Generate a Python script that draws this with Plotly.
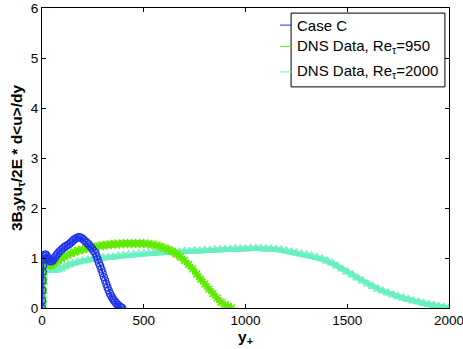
import plotly.graph_objects as go

# Case C
case_y = [0, 1, 2, 3, 4, 5, 7, 10, 14, 18, 22, 27, 32, 38, 44, 50, 56, 63, 70, 78,
          86, 94, 102, 110, 118, 126, 134, 142, 150, 158, 166, 174, 182, 190, 198,
          206, 214, 222, 230, 238, 246, 254, 262, 268, 274, 280, 286, 292, 298, 304,
          310, 316, 322, 328, 334, 340, 346, 352, 358, 364, 370, 376, 382, 388, 394]
case_v = [0.0, 0.15, 0.35, 0.55, 0.72, 0.85, 0.97, 1.04, 1.07, 1.07, 1.05, 1.01, 0.97,
          0.94, 0.93, 0.94, 0.97, 1.01, 1.05, 1.09, 1.13, 1.16, 1.19, 1.22, 1.24, 1.26,
          1.28, 1.31, 1.34, 1.37, 1.39, 1.41, 1.42, 1.41, 1.39, 1.36, 1.33, 1.30, 1.27,
          1.23, 1.19, 1.14, 1.10, 1.04, 0.97, 0.90, 0.84, 0.77, 0.70, 0.62, 0.55, 0.48,
          0.41, 0.35, 0.29, 0.24, 0.20, 0.16, 0.13, 0.10, 0.07, 0.05, 0.03, 0.015, 0.0]

# DNS Re_tau = 950
dns950_y = [0, 1, 2, 3, 4, 5, 7, 10, 13, 17, 22, 28, 35, 42, 50, 60, 70, 80, 95, 110,
            125, 140, 160, 180, 200, 220, 240, 260, 280, 300, 320, 340, 360, 380, 400,
            420, 440, 460, 480, 500, 520, 540, 560, 580, 600, 620, 640, 660, 680, 700,
            720, 740, 760, 780, 800, 820, 840, 860, 880, 900, 915, 930]
dns950_v = [0.0, 0.12, 0.3, 0.48, 0.62, 0.73, 0.86, 0.94, 0.96, 0.95, 0.92, 0.89, 0.87,
            0.86, 0.87, 0.89, 0.92, 0.95, 0.99, 1.03, 1.06, 1.09, 1.12, 1.15, 1.17, 1.19,
            1.21, 1.22, 1.24, 1.25, 1.26, 1.27, 1.28, 1.28, 1.29, 1.29, 1.29, 1.29, 1.29,
            1.29, 1.28, 1.27, 1.25, 1.23, 1.20, 1.17, 1.13, 1.08, 1.02, 0.95, 0.87, 0.78,
            0.68, 0.58, 0.48, 0.38, 0.29, 0.20, 0.12, 0.06, 0.03, 0.0]

# DNS Re_tau = 2000
dns2000_y = [0, 1, 2, 3, 4, 5, 7, 10, 14, 19, 25, 32, 40, 50, 60, 75, 90, 110, 130, 150,
             175, 200, 225, 250, 275, 300, 325, 350, 375, 400, 425, 450, 475, 500, 525,
             550, 575, 600, 625, 650, 675, 700, 725, 750, 775, 800, 825, 850, 875, 900,
             925, 950, 975, 1000, 1025, 1050, 1075, 1100, 1125, 1150, 1175, 1200, 1225,
             1250, 1275, 1300, 1325, 1350, 1375, 1400, 1425, 1450, 1475, 1500, 1525, 1550,
             1575, 1600, 1625, 1650, 1675, 1700, 1725, 1750, 1775, 1800, 1825, 1850, 1875,
             1900, 1925, 1950, 1975, 2000]
dns2000_v = [0.0, 0.1, 0.25, 0.4, 0.52, 0.6, 0.7, 0.77, 0.80, 0.80, 0.79, 0.77, 0.76, 0.75,
             0.75, 0.76, 0.78, 0.82, 0.86, 0.89, 0.92, 0.94, 0.96, 0.98, 0.99, 1.00, 1.01,
             1.02, 1.04, 1.05, 1.06, 1.07, 1.08, 1.09, 1.09, 1.10, 1.10, 1.11, 1.11, 1.12,
             1.12, 1.13, 1.13, 1.14, 1.14, 1.15, 1.15, 1.16, 1.16, 1.17, 1.17, 1.18, 1.18,
             1.18, 1.19, 1.19, 1.19, 1.18, 1.18, 1.17, 1.16, 1.14, 1.12, 1.10, 1.08, 1.06,
             1.04, 1.01, 0.98, 0.94, 0.90, 0.84, 0.78, 0.72, 0.66, 0.60, 0.54, 0.48, 0.43,
             0.38, 0.34, 0.30, 0.26, 0.23, 0.20, 0.17, 0.14, 0.12, 0.09, 0.07, 0.05, 0.03,
             0.01, 0.0]

legend_names = ["Case C", "DNS Data, Re<sub>τ</sub>=950", "DNS Data, Re<sub>τ</sub>=2000"]

blue = "rgb(30,50,235)"
green = "rgb(95,235,0)"
aqua = "rgb(105,240,190)"

fig = go.Figure()
# thick line under the markers gives the dense marker band of the original
fig.add_trace(go.Scatter(x=dns2000_y, y=dns2000_v, mode="lines+markers", showlegend=False,
                         line=dict(color=aqua, width=5),
                         marker=dict(symbol="triangle-up-open", size=8, color=aqua,
                                     line=dict(width=1.2, color=aqua))))
fig.add_trace(go.Scatter(x=dns950_y, y=dns950_v, mode="lines+markers", showlegend=False,
                         line=dict(color=green, width=4),
                         marker=dict(symbol="asterisk-open", size=8, color=green,
                                     line=dict(width=1.5, color=green))))
fig.add_trace(go.Scatter(x=case_y, y=case_v, mode="lines+markers", showlegend=False,
                         line=dict(color=blue, width=2),
                         marker=dict(symbol="circle-open", size=7, color=blue,
                                     line=dict(width=1.2, color=blue))))

# hand-made legend box (matlab style: line samples poke out on the left)
fig.add_shape(type="rect", xref="paper", yref="paper", x0=0.612, x1=0.990, y0=0.737, y1=0.983,
              line=dict(color="black", width=1), fillcolor="white", layer="above")
for name, col, yy in zip(legend_names, [blue, green, aqua], [0.943, 0.872, 0.787]):
    fig.add_shape(type="line", xref="paper", yref="paper", x0=0.585, x1=0.614, y0=yy, y1=yy,
                  line=dict(color=col, width=1), layer="above")
    fig.add_annotation(text=name, xref="paper", yref="paper", x=0.622, y=yy,
                       xanchor="left", yanchor="middle", showarrow=False,
                       font=dict(size=15, color="black"))

axis_common = dict(showline=True, linecolor="black", linewidth=1, mirror="ticks",
                   ticks="inside", ticklen=4, tickcolor="black", showgrid=False,
                   zeroline=False, automargin=False, ticklabeloverflow="allow",
                   tickfont=dict(size=13.5, color="black"))

fig.update_xaxes(range=[0, 2000], tickvals=[0, 500, 1000, 1500, 2000],
                 title=dict(text="<b>y<sub>+</sub></b>", font=dict(size=15.5), standoff=1),
                 **axis_common)
fig.update_yaxes(range=[0, 6], tickvals=[0, 1, 2, 3, 4, 5, 6],
                 title=dict(text="<b>3B<sub>3</sub>yu<sub>τ</sub>/2E * d&lt;u&gt;/dy</b>",
                            font=dict(size=15.5), standoff=4),
                 **axis_common)

fig.update_layout(
    width=463, height=349,
    margin=dict(l=42, r=14, t=8, b=41),
    paper_bgcolor="white", plot_bgcolor="white",
    font=dict(family="Liberation Sans, Arial, sans-serif", color="black"),
    showlegend=False,
)

fig.write_html("out.html", config={"displayModeBar": False},
               post_script="document.body.style.margin='0';")
